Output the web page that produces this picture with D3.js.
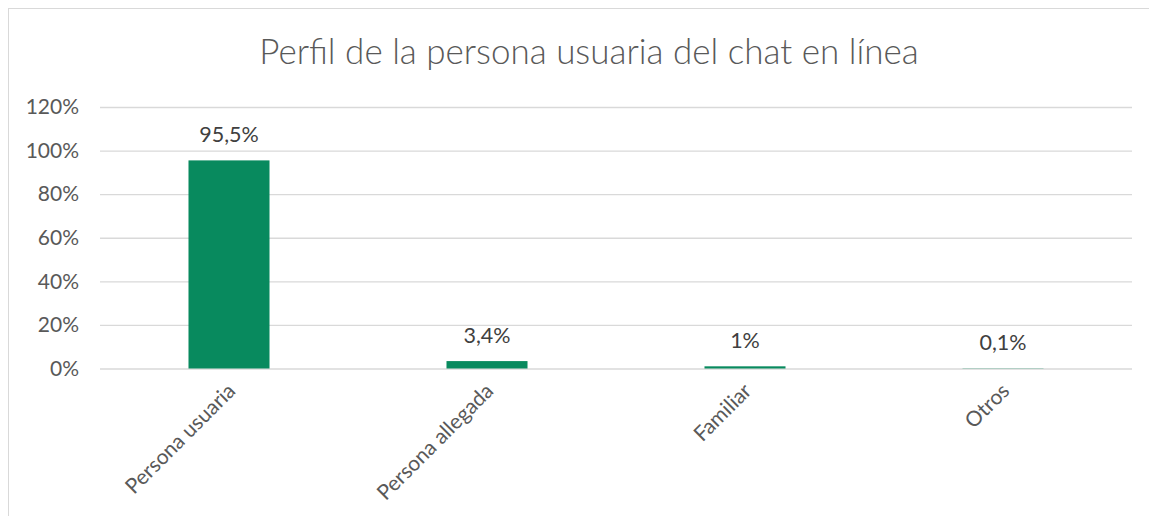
<!DOCTYPE html>
<html><head><meta charset="utf-8">
<script src="https://cdn.jsdelivr.net/npm/d3@7"></script>
<style>body{margin:0;background:#fff}svg{display:block}</style>
</head><body>
<script>
const title = "Perfil de la persona usuaria del chat en línea";
const categories = ["Persona usuaria", "Persona allegada", "Familiar", "Otros"];
const values = [95.5, 3.4, 1, 0.1];
const valueLabels = ["95,5%", "3,4%", "1%", "0,1%"];
const yTicks = [0, 20, 40, 60, 80, 100, 120];

const W = 1149, H = 516;
const FONT = "Lato, 'Open Sans', sans-serif";
const svg = d3.select("body").append("svg").attr("width", W).attr("height", H);
svg.append("rect").attr("width", W).attr("height", H).attr("fill", "#fff");
// chart area border (top & left visible)
svg.append("rect").attr("x", 8.5).attr("y", 8.5).attr("width", W + 10).attr("height", H + 10)
  .attr("fill", "none").attr("stroke", "#d9d9d9").attr("stroke-width", 1);

const m = {left: 100, right: 1132, top: 107, bottom: 368.5};
const x = d3.scaleBand().domain(categories).range([m.left, m.right]).paddingInner(0.686).paddingOuter(0.343);
const y = d3.scaleLinear().domain([0, 120]).range([m.bottom, m.top]);

// gridlines
const yAxis = d3.axisLeft(y).tickValues(yTicks).tickSize(-(m.right - m.left)).tickFormat(d => d + "%").tickPadding(21);
const gy = svg.append("g").attr("transform", `translate(${m.left},0)`).call(yAxis);
gy.select(".domain").remove();
gy.selectAll(".tick line").attr("stroke", "#d9d9d9").attr("stroke-width", 1.3);
gy.selectAll(".tick text").attr("fill", "#595959").style("font-family", FONT).style("font-size", "21px");

// bars
svg.selectAll("rect.bar").data(values).join("rect").attr("class", "bar")
  .attr("x", (d, i) => x(categories[i]))
  .attr("width", x.bandwidth())
  .attr("y", d => y(d))
  .attr("height", d => y(0) - y(d))
  .attr("fill", "#088A5E");

// data labels
svg.selectAll("text.vl").data(values).join("text").attr("class", "vl")
  .attr("x", (d, i) => x(categories[i]) + x.bandwidth() / 2)
  .attr("y", d => y(d) - 18)
  .attr("text-anchor", "middle")
  .attr("fill", "#404040")
  .style("font-family", FONT).style("font-size", "21.5px")
  .text((d, i) => valueLabels[i]);

// x axis labels
const xAxis = d3.axisBottom(x).tickSize(0).tickPadding(0);
const gx = svg.append("g").attr("transform", `translate(0,${m.bottom})`).call(xAxis);
gx.select(".domain").remove();
gx.selectAll(".tick text")
  .attr("fill", "#595959").style("font-family", FONT).style("font-size", "21px")
  .attr("text-anchor", "end").attr("dy", null)
  .attr("transform", "translate(4,20) rotate(-45)")
  .attr("x", 0).attr("y", 0).attr("dominant-baseline", "middle");

// title
svg.append("text").attr("x", 589).attr("y", 64).attr("text-anchor", "middle")
  .attr("fill", "#595959").style("font-family", FONT).style("font-size", "35px").style("font-weight", 300)
  .text(title);
</script>
</body></html>
